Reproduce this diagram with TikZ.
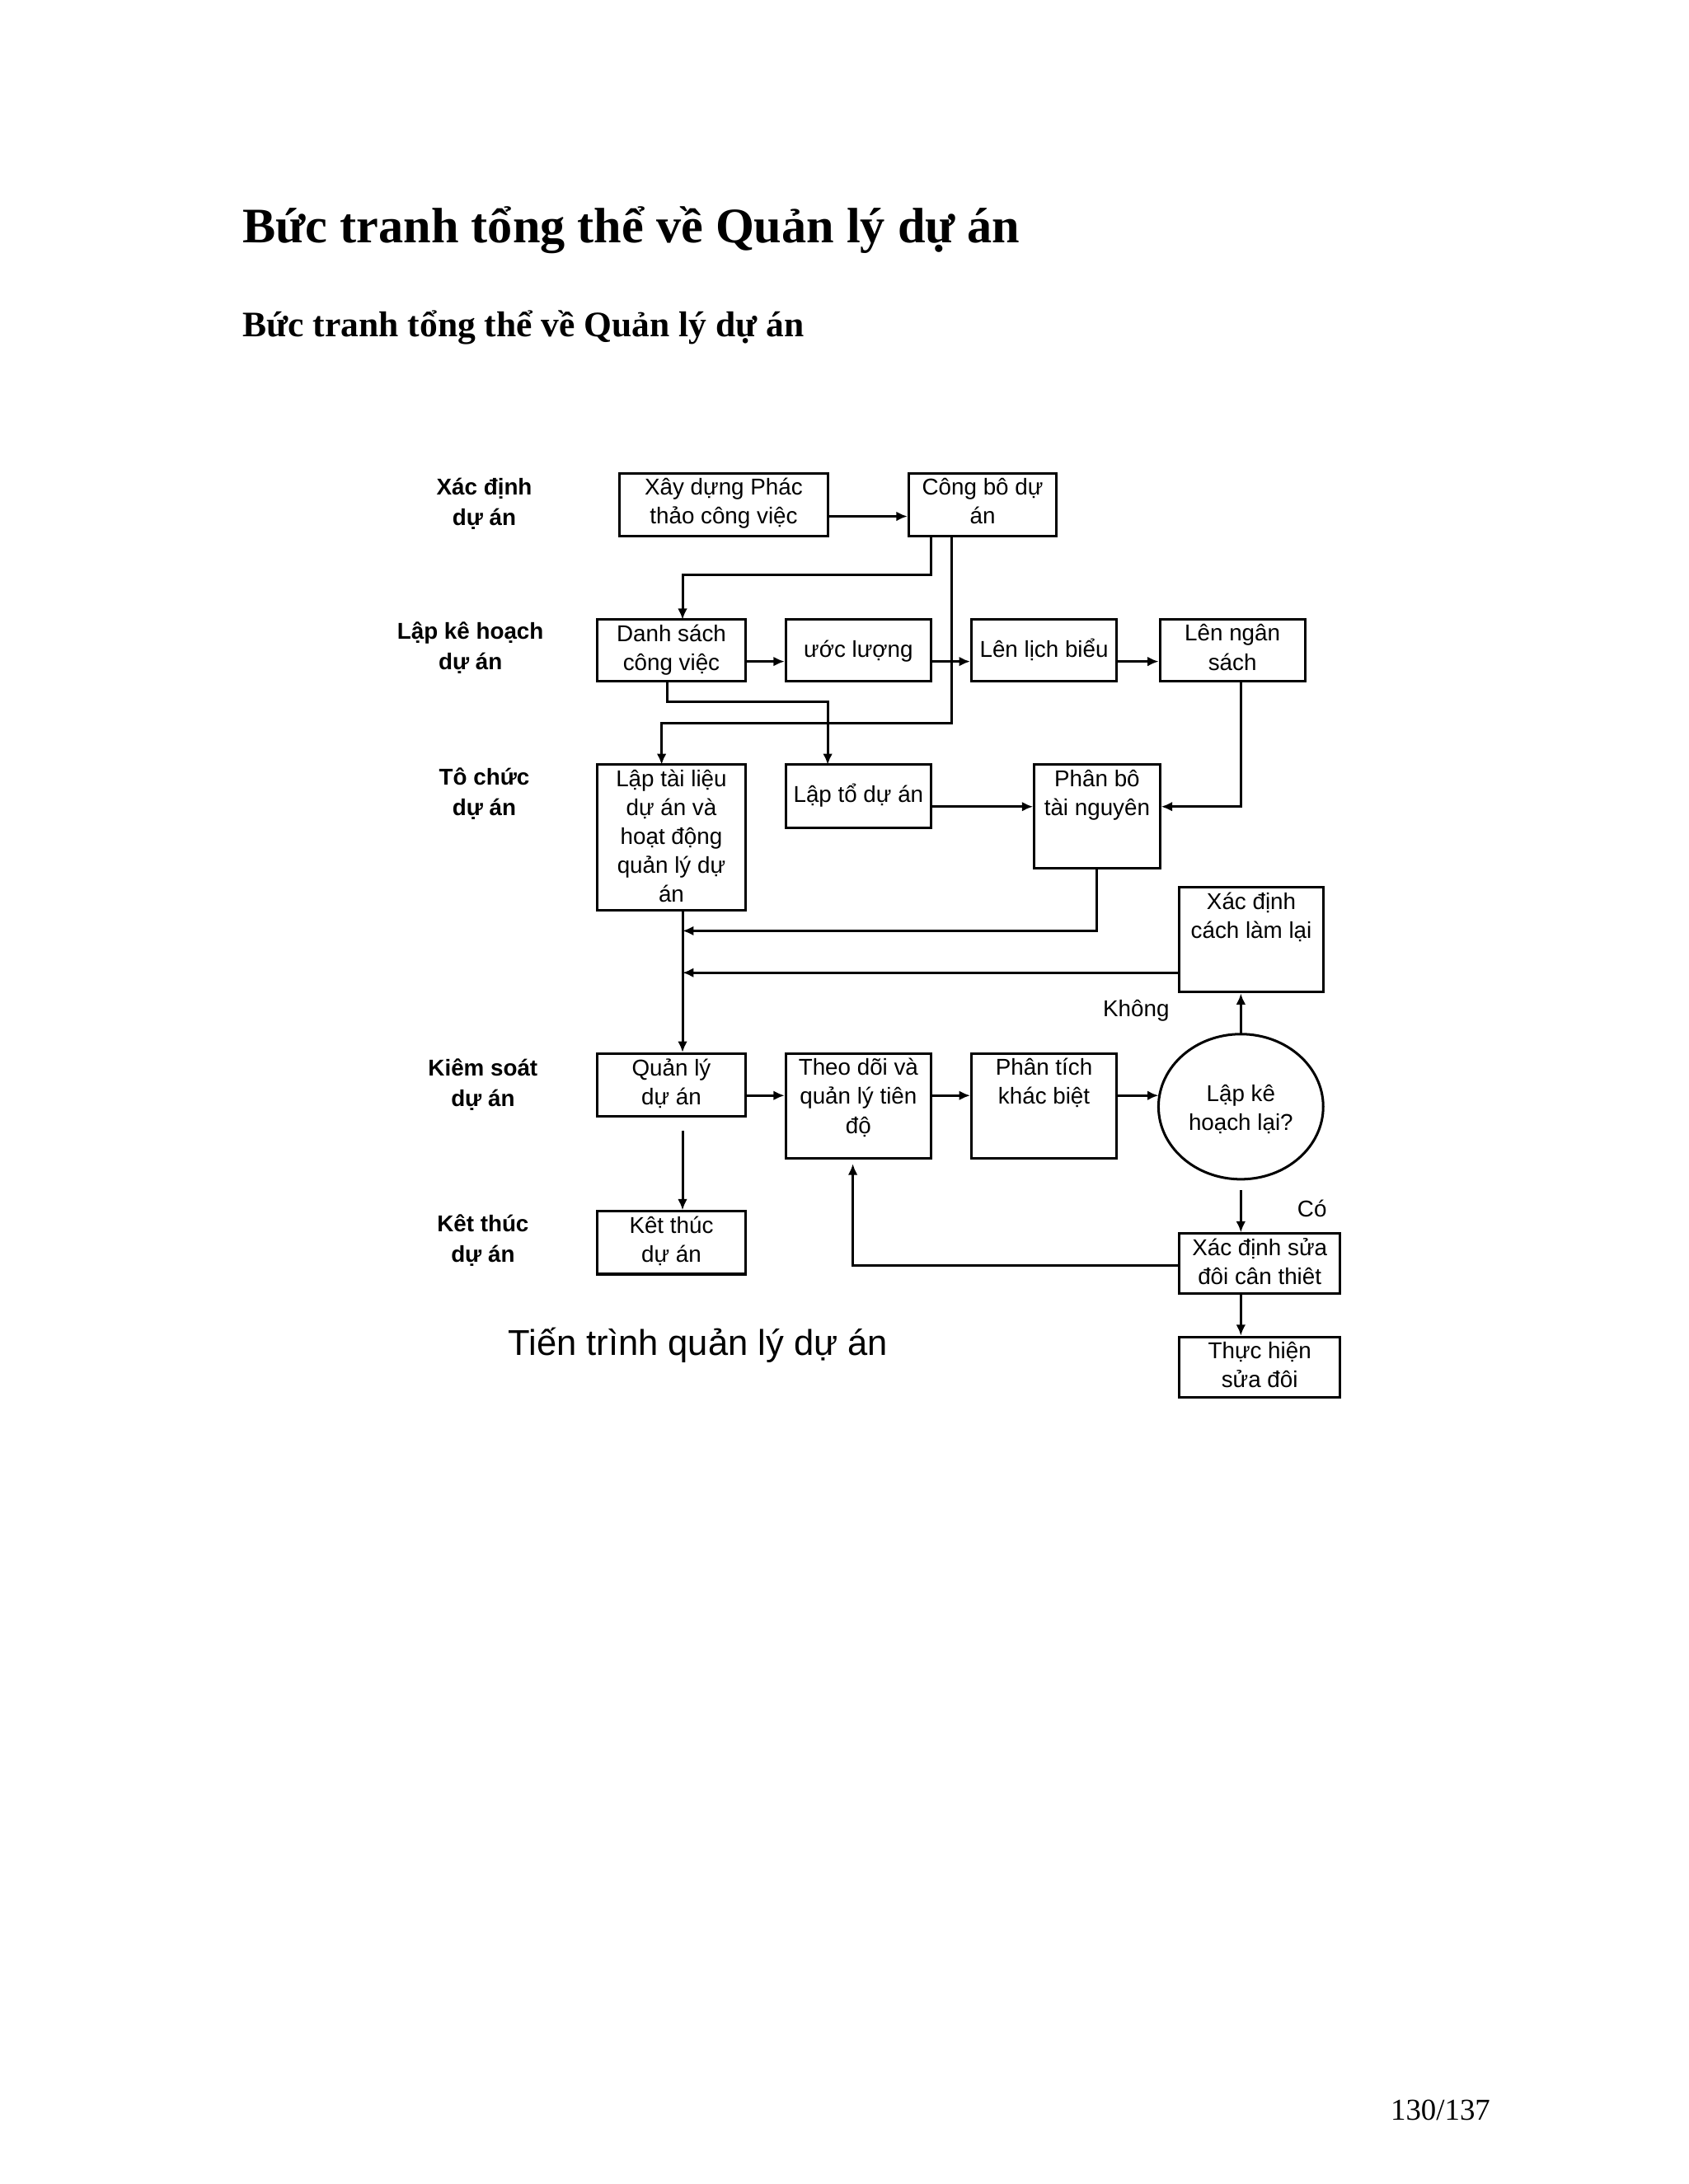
\documentclass[tikz,border=0pt]{standalone}
\usepackage{fontspec}
\setmainfont{Liberation Serif}
\newfontfamily\arialf{Liberation Sans}
\usetikzlibrary{fit,arrows.meta}
\begin{document}
\begin{tikzpicture}[x=0.5058pt,y=-0.5058pt,
  box/.style={draw,line width=0.9pt,inner sep=0pt},
  txt/.style={font=\arialf\fontsize{8.3}{10.5}\selectfont,align=center,inner sep=1pt,yshift=-1pt},
  lab/.style={font=\arialf\bfseries\fontsize{8.3}{11}\selectfont,align=center},
  ar/.style={line width=0.9pt,-{Latex[length=4pt,width=3.5pt]}},
  ln/.style={line width=0.9pt}]
\useasboundingbox[fill=white] (0,0) rectangle (1210,1565);
\newcommand\bx[6]{\node[box,fit={(#2,#3)(#4,#5)}] (#1) {};\node[txt,anchor=north] (#1t) at (#1.north) {#6};}
\node[anchor=west,font=\bfseries\fontsize{18}{20}\selectfont] (title) at (167,165) {Bức tranh tổng thể về Quản lý dự án};
\node[anchor=west,font=\bfseries\fontsize{13}{15}\selectfont] (sub) at (167,235) {Bức tranh tổng thể về Quản lý dự án};
% left labels
\node[lab] (l1) at (347,361) {Xác định\\dự án};
\node[lab] (l2) at (337,464) {Lập kê hoạch\\dự án};
\node[lab] (l3) at (347,569) {Tô chức\\dự án};
\node[lab] (l4) at (346,777) {Kiêm soát\\dự án};
\node[lab] (l5) at (346,889) {Kêt thúc\\dự án};
% boxes
\bx{a}{444}{339}{593}{384}{Xây dựng Phác\\thảo công việc}
\bx{b}{651}{339}{757}{384}{Công bô dự\\án}
\bx{c}{428}{444}{534}{488}{Danh sách\\công  việc}
\bx{d}{563}{444}{667}{488}{\rule{0pt}{12pt}ước lượng}
\bx{e}{696}{444}{800}{488}{\rule{0pt}{12pt}Lên lịch biểu}
\bx{f}{831}{444}{935}{488}{Lên ngân\\sách}
\bx{g}{428}{548}{534}{652}{Lập tài liệu\\dự án và\\hoạt động\\quản lý  dự\\án}
\bx{h}{563}{548}{667}{593}{\rule{0pt}{12pt}Lập tổ dự án}
\bx{i}{741}{548}{831}{622}{Phân bô\\tài nguyên}
\bx{j}{845}{636}{948}{711}{Xác định\\cách làm lại}
\bx{k}{428}{755}{534}{800}{Quản lý\\dự án}
\bx{m}{563}{755}{667}{830}{Theo dõi và\\quản lý tiên\\độ}
\bx{n}{696}{755}{800}{830}{Phân tích\\khác biệt}
\bx{p}{428}{868}{534}{913}{Kêt thúc\\dự án}
\bx{q}{845}{884}{960}{927}{Xác định sửa\\đôi cân thiêt}
\bx{r}{845}{958}{960}{1001}{Thực hiện\\sửa đôi}
\draw[line width=0.9pt] (889,793) ellipse [x radius=59,y radius=52];
\node[txt] (o) at (889,793) {Lập kê\\hoạch  lại?};
\coordinate (otop) at (889,741);
\coordinate (obot) at (889,853);
\coordinate (kbot) at (489,810);
\node[font=\arialf\fontsize{8.3}{10}\selectfont] (kh) at (814,724) {Không};
\node[font=\arialf\fontsize{8.3}{10}\selectfont] (co) at (940,866) {Có};
% connectors
\draw[ar] (a.east |- 0,370) -- (b.west |- 0,370);
\draw[ar] (667,384) -- (667,412) -- (489,412) -- (489,444);
\draw[ar] (682,384) -- (682,518) -- (474,518) -- (474,548);
\draw[ar] (c.east |- 0,474) -- (d.west |- 0,474);
\draw[ar] (d.east |- 0,474) -- (e.west |- 0,474);
\draw[ar] (e.east |- 0,474) -- (f.west |- 0,474);
\draw[ar] (478,488) -- (478,503) -- (593,503) -- (593,548);
\draw[ar] (h.east |- 0,578) -- (i.west |- 0,578);
\draw[ar] (889,488) -- (889,578) -- (i.east |- 0,578);
\draw[ar] (786,622) -- (786,667) -- (489,667);
\draw[ar] (j.west |- 0,697) -- (489,697);
\draw[ar] (489,652) -- (k.north -| 489,0);
\draw[ar] (k.east |- 0,785) -- (m.west |- 0,785);
\draw[ar] (m.east |- 0,785) -- (n.west |- 0,785);
\draw[ar] (n.east |- 0,785) -- (830,785);
\draw[ar] (otop) -- (j.south -| 889,0);
\draw[ar] (obot) -- (q.north -| 889,0);
\draw[ar] (q.west |- 0,907) -- (611,907) -- (611,834);
\draw[ar] (q.south -| 889,0) -- (r.north -| 889,0);
\draw[ar] (kbot) -- (p.north -| 489,0);
\node[font=\arialf\fontsize{13}{15}\selectfont] (cap) at (500,964) {Tiến trình quản lý dự án};
\node[font=\fontsize{11}{13}\selectfont] (pg) at (1032,1512) {130/137};
\end{tikzpicture}
\end{document}
